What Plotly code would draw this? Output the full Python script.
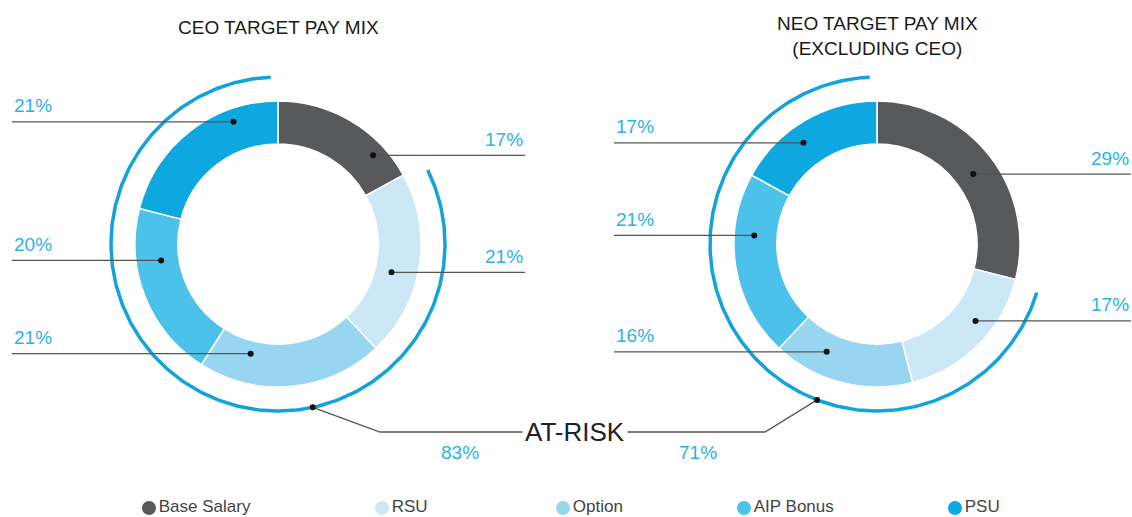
import numpy as np
import plotly.graph_objects as go

# ---------------- data ----------------
categories = ["Base Salary", "RSU", "Option", "AIP Bonus", "PSU"]
ceo_values = [17, 21, 21, 20, 21]
neo_values = [29, 17, 16, 21, 17]
at_risk_values = [83, 71]
chart_titles = ["CEO TARGET PAY MIX", "NEO TARGET PAY MIX<br>(EXCLUDING CEO)"]
at_risk_label = "AT-RISK"

# ---------------- styles / layout ----------------
colors = ["#58595b", "#cce8f6", "#98d5f0", "#4cc2ea", "#0ea8e0"]
ARC_COLOR = "#12a3dc"
PCT_COLOR = "#2bb2e8"
LINE_COLOR = "#555555"
FONT = "Liberation Sans, Arial, sans-serif"
W, H = 1132, 517
CENTERS = [(278, 244), (877, 244)]
R_OUT = 143
HOLE = 0.70
R_ARC = 167
ARC_GAP = 2.5
CALLOUT_ANGLES = [[47, 104, 194, 262, 340], [54, 128, 205, 274, 324]]
CALLOUT_RADII = [[130, 117, 113, 118, 130], [119, 125, 119, 123, 125]]
LABEL_ENDS = [(12, 525), (614, 1131)]
AT_RISK_DOT_ANGLES = [168, 201]
AT_RISK_ELBOWS = [(380, 432), (765, 432)]
AT_RISK_TEXT_POS = (575, 432)
AT_RISK_PCT_POS = [(460, 452), (698, 452)]
TITLE_POS = [(278, 27), (877, 36)]
LEGEND_X = [149, 382, 563, 744, 955]
LEGEND_Y = 508


def polar(c, r, deg):
    t = np.radians(deg)
    return c[0] + r * np.sin(t), c[1] - r * np.cos(t)


fig = go.Figure()
shapes = []
annotations = []

for i, vals in enumerate([ceo_values, neo_values]):
    cx, cy = CENTERS[i]
    # donut
    fig.add_trace(go.Pie(
        values=vals, labels=categories, hole=HOLE, sort=False,
        direction="clockwise", rotation=0, textinfo="none",
        marker=dict(colors=colors, line=dict(color="white", width=1.5)),
        domain=dict(x=[(cx - R_OUT) / W, (cx + R_OUT) / W],
                    y=[1 - (cy + R_OUT) / H, 1 - (cy - R_OUT) / H]),
        showlegend=False, hoverinfo="label+percent",
    ))
    total = sum(vals)
    # at-risk arc (everything except base salary)
    start = vals[0] / total * 360 + ARC_GAP
    end = 360 - ARC_GAP
    t = np.linspace(start, end, 300)
    ax, ay = polar((cx, cy), R_ARC, t)
    fig.add_trace(go.Scatter(x=ax, y=ay, mode="lines",
                             line=dict(color=ARC_COLOR, width=3.5),
                             hoverinfo="skip", showlegend=False))
    # callouts
    for j, v in enumerate(vals):
        ang = CALLOUT_ANGLES[i][j]
        dx, dy = polar((cx, cy), CALLOUT_RADII[i][j], ang)
        right = ang < 180
        xe = LABEL_ENDS[i][1] if right else LABEL_ENDS[i][0]
        shapes.append(dict(type="line", xref="x", yref="y", x0=dx, y0=dy, x1=xe, y1=dy,
                           line=dict(color=LINE_COLOR, width=1.3), layer="above"))
        shapes.append(dict(type="circle", xref="x", yref="y", x0=dx - 3, x1=dx + 3,
                           y0=dy - 3, y1=dy + 3, fillcolor="#111", line=dict(width=0),
                           layer="above"))
        annotations.append(dict(x=xe, y=dy - 16, xref="x", yref="y", text=f"{v}%",
                                showarrow=False, xanchor="right" if right else "left",
                                yanchor="middle",
                                font=dict(family=FONT, size=19, color=PCT_COLOR)))
    # title
    annotations.append(dict(x=TITLE_POS[i][0], y=TITLE_POS[i][1], xref="x", yref="y",
                            text=chart_titles[i], showarrow=False, xanchor="center",
                            yanchor="middle",
                            font=dict(family=FONT, size=19, color="#1a1a1a")))
    # at-risk percentage
    annotations.append(dict(x=AT_RISK_PCT_POS[i][0], y=AT_RISK_PCT_POS[i][1], xref="x",
                            yref="y", text=f"{at_risk_values[i]}%", showarrow=False,
                            font=dict(family=FONT, size=19, color=PCT_COLOR)))

# at-risk connector
d0 = polar(CENTERS[0], R_ARC, AT_RISK_DOT_ANGLES[0])
d1 = polar(CENTERS[1], R_ARC, AT_RISK_DOT_ANGLES[1])
path = (f"M {d0[0]} {d0[1]} L {AT_RISK_ELBOWS[0][0]} {AT_RISK_ELBOWS[0][1]} "
        f"L {AT_RISK_ELBOWS[1][0]} {AT_RISK_ELBOWS[1][1]} L {d1[0]} {d1[1]}")
shapes.append(dict(type="path", xref="x", yref="y", path=path,
                   line=dict(color=LINE_COLOR, width=1.3), layer="above"))
for d in (d0, d1):
    shapes.append(dict(type="circle", xref="x", yref="y", x0=d[0] - 3, x1=d[0] + 3,
                       y0=d[1] - 3, y1=d[1] + 3, fillcolor="#111", line=dict(width=0),
                       layer="above"))
annotations.append(dict(x=AT_RISK_TEXT_POS[0], y=AT_RISK_TEXT_POS[1], xref="x", yref="y",
                        text=at_risk_label, showarrow=False, bgcolor="white", borderpad=2,
                        font=dict(family=FONT, size=26, color="#222")))

# legend
for k, cat in enumerate(categories):
    fig.add_trace(go.Scatter(x=[LEGEND_X[k]], y=[LEGEND_Y], mode="markers+text",
                             marker=dict(size=14, color=colors[k]), text=[cat],
                             textposition="middle right",
                             textfont=dict(family=FONT, size=17, color="#444"),
                             hoverinfo="skip", showlegend=False))

fig.update_layout(
    width=W, height=H, margin=dict(l=0, r=0, t=0, b=0),
    paper_bgcolor="white", plot_bgcolor="white",
    xaxis=dict(range=[0, W], visible=False, fixedrange=True),
    yaxis=dict(range=[H, 0], visible=False, fixedrange=True),
    shapes=shapes, annotations=annotations, showlegend=False,
)
fig.write_html("out.html", config={"displayModeBar": False},
               post_script="document.body.style.margin='0';document.body.style.overflow='hidden';")
